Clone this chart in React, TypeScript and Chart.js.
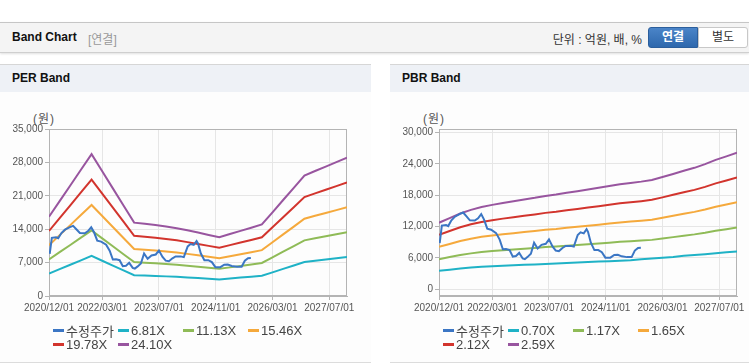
import React, { useEffect, useRef } from "react";
import { Chart, registerables } from "chart.js";
Chart.register(...registerables);

// x positions are months counted from 2020/12/01
const tickMonths = [0, 15, 31, 47, 63, 79];
const tickLabels = ["2020/12/01", "2022/03/01", "2023/07/01", "2024/11/01", "2026/03/01", "2027/07/01"];

const bandMonths = [0, 3, 6, 9, 12, 15, 18, 21, 24, 27, 30, 33, 36, 39, 42, 45, 48, 51, 54, 57, 60, 63, 66, 69, 72, 75, 78, 81, 84];

const priceMonths = [0.2, 0.8, 2.0, 2.6, 3.5, 4.5, 5.9, 6.8, 7.7, 8.7, 10.1, 11.0, 11.9, 12.7, 13.6, 14.7, 16.1, 17.1, 18.0, 18.9, 19.9, 20.8, 21.7, 22.6, 23.6, 24.2, 25.0, 25.9, 26.8, 27.8, 28.9, 30.1, 31.0, 32.0, 32.9, 33.8, 34.8, 35.7, 37.1, 38.0, 39.1, 39.9, 40.8, 41.6, 42.0, 42.8, 43.8, 44.9, 45.9, 46.9, 48.3, 49.4, 50.4, 51.5, 53.0, 54.3, 55.2, 56.1, 56.9];
const priceValues = [8850, 12200, 12300, 12100, 13200, 13900, 14450, 14700, 14000, 13200, 13150, 13600, 14400, 13350, 11600, 11400, 10750, 9500, 7650, 7700, 7500, 6250, 6350, 6950, 5900, 5750, 6200, 6800, 8900, 7800, 8500, 8700, 9550, 8200, 7400, 7300, 7900, 8300, 8300, 8150, 10400, 10900, 10700, 11500, 11000, 8900, 7500, 7500, 7100, 6050, 6050, 6550, 6600, 6300, 6150, 6150, 7400, 7900, 7950];

// PER bands
const per681 = [4692, 5618, 6544, 7477, 8404, 7389, 6374, 5359, 4345, 4277, 4209, 4113, 4018, 3889, 3759, 3616, 3480, 3671, 3854, 4045, 4236, 4958, 5686, 6408, 7137, 7402, 7661, 7927, 8192];
const per1113 = [7669, 9182, 10696, 12221, 13734, 12076, 10418, 8759, 7101, 6990, 6878, 6723, 6567, 6355, 6144, 5910, 5687, 5999, 6300, 6611, 6923, 8103, 9294, 10473, 11664, 12098, 12521, 12955, 13389];
const per1546 = [10652, 12755, 14857, 16975, 19078, 16774, 14471, 12167, 9863, 9709, 9554, 9338, 9121, 8828, 8534, 8209, 7900, 8333, 8750, 9183, 9616, 11255, 12909, 14548, 16202, 16805, 17393, 17995, 18598];
const per1978 = [13628, 16319, 19009, 21718, 24409, 21461, 18514, 15567, 12620, 12422, 12224, 11947, 11670, 11294, 10919, 10503, 10108, 10661, 11195, 11749, 12303, 14400, 16516, 18613, 20729, 21501, 22253, 23024, 23795];
const per2410 = [16605, 19883, 23160, 26462, 29739, 26149, 22558, 18967, 15376, 15135, 14894, 14556, 14219, 13761, 13303, 12797, 12315, 12990, 13641, 14315, 14990, 17545, 20124, 22678, 25257, 26197, 27113, 28052, 28992];

// PBR bands
const pbr070 = [3520, 3740, 3960, 4150, 4300, 4380, 4480, 4580, 4670, 4750, 4830, 4920, 5010, 5110, 5220, 5300, 5380, 5450, 5560, 5720, 5880, 6020, 6180, 6400, 6560, 6720, 6900, 7060, 7230];
const pbr117 = [5756, 6154, 6552, 6868, 7114, 7301, 7465, 7617, 7769, 7909, 8073, 8190, 8342, 8483, 8635, 8775, 8927, 9079, 9196, 9313, 9454, 9711, 9980, 10249, 10507, 10823, 11197, 11501, 11817];
const pbr165 = [8118, 8679, 9240, 9686, 10032, 10296, 10527, 10742, 10956, 11154, 11385, 11550, 11765, 11963, 12177, 12375, 12590, 12804, 12969, 13134, 13332, 13695, 14075, 14454, 14817, 15263, 15791, 16220, 16665];
const pbr212 = [10430, 11151, 11872, 12444, 12890, 13229, 13526, 13801, 14077, 14331, 14628, 14840, 15116, 15370, 15646, 15900, 16176, 16451, 16663, 16875, 17130, 17596, 18084, 18571, 19038, 19610, 20288, 20840, 21412];
const pbr259 = [12743, 13623, 14504, 15203, 15747, 16162, 16524, 16861, 17198, 17508, 17871, 18130, 18467, 18778, 19114, 19425, 19762, 20098, 20357, 20616, 20927, 21497, 22093, 22688, 23258, 23958, 24786, 25460, 26159];

const perLabels = ["6.81X", "11.13X", "15.46X", "19.78X", "24.10X"];
const pbrLabels = ["0.70X", "1.17X", "1.65X", "2.12X", "2.59X"];
const perYTicks = [0, 7000, 14000, 21000, 28000, 35000];
const pbrYTicks = [0, 6000, 12000, 18000, 24000, 30000];

const PRICE_COLOR = "#3b76c4";
const BAND_COLORS = ["#1fb2c6", "#8fbb57", "#f5a93c", "#d2342d", "#98559f"];
const FONT = "'Liberation Sans', Arial, 'Noto Sans CJK KR', sans-serif";
const KFONT = "'Liberation Sans', Arial, 'Noto Sans CJK KR', sans-serif";

const borderPlugin = {
  id: "plotBorder",
  beforeDatasetsDraw(chart: any) {
    const { ctx, chartArea } = chart;
    ctx.save();
    ctx.strokeStyle = "#b4b4b4";
    ctx.lineWidth = 1;
    ctx.strokeRect(
      Math.round(chartArea.left) + 0.5,
      Math.round(chartArea.top) + 0.5,
      Math.round(chartArea.right - chartArea.left) - 1,
      Math.round(chartArea.bottom - chartArea.top) - 1
    );
    ctx.restore();
  },
};

function BandCanvas(props: { bands: number[][]; labels: string[]; yMin: number; yMax: number; yTicks: number[] }) {
  const ref = useRef<HTMLCanvasElement>(null);
  useEffect(() => {
    if (!ref.current) return;
    const datasets: any[] = [
      {
        label: "수정주가",
        data: priceMonths.map((m, i) => ({ x: m, y: priceValues[i] })),
        borderColor: PRICE_COLOR,
        backgroundColor: PRICE_COLOR,
      },
      ...props.bands.map((vals, k) => ({
        label: props.labels[k],
        data: bandMonths.map((m, i) => ({ x: m, y: vals[i] })),
        borderColor: BAND_COLORS[k],
        backgroundColor: BAND_COLORS[k],
      })),
    ].map((d) => ({ ...d, borderWidth: 2, pointRadius: 0, tension: 0, fill: false }));

    const chart = new Chart(ref.current, {
      type: "line",
      data: { datasets },
      options: {
        animation: false,
        responsive: false,
        events: [],
        layout: { padding: { top: 29, right: 23, left: 0, bottom: 0 } },
        plugins: { legend: { display: false }, tooltip: { enabled: false } },
        scales: {
          x: {
            type: "linear",
            min: 0,
            max: 84,
            afterBuildTicks: (s: any) => {
              s.ticks = tickMonths.map((v) => ({ value: v }));
            },
            afterFit: (s: any) => {
              s.height = 29;
            },
            ticks: {
              autoSkip: false,
              maxRotation: 0,
              padding: 2,
              color: "#555",
              font: { family: FONT, size: 10 },
              callback: (v: any) => {
                const i = tickMonths.indexOf(Number(v));
                return i >= 0 ? tickLabels[i] : "";
              },
            },
            grid: { color: "#e6e6e6", tickColor: "#b4b4b4", tickLength: 4 },
            border: { color: "#b4b4b4" },
          },
          y: {
            type: "linear",
            min: props.yMin,
            max: props.yMax,
            afterBuildTicks: (s: any) => {
              s.ticks = props.yTicks.map((v) => ({ value: v }));
            },
            afterFit: (s: any) => {
              s.width = 49;
            },
            ticks: {
              padding: 2,
              color: "#555",
              font: { family: FONT, size: 10 },
              callback: (v: any) => Number(v).toLocaleString("en-US"),
            },
            grid: { color: "#e6e6e6", tickColor: "#b4b4b4", tickLength: 4 },
            border: { color: "#b4b4b4" },
          },
        },
      },
      plugins: [borderPlugin],
    } as any);
    return () => chart.destroy();
  }, []);
  return (
    <canvas
      ref={ref}
      width={370}
      height={225}
      style={{ position: "absolute", left: 0, top: 100, width: 370, height: 225 }}
    />
  );
}

function Legend(props: { labels: string[] }) {
  const items = [{ label: "수정주가", color: PRICE_COLOR }, ...props.labels.map((l, k) => ({ label: l, color: BAND_COLORS[k] }))];
  return (
    <>
      {items.map((it, i) => {
        const col = i % 4;
        const row = Math.floor(i / 4);
        return (
          <div
            key={i}
            style={{
              position: "absolute",
              left: 53 + col * 65,
              top: 322 + row * 14,
              height: 16,
              display: "flex",
              alignItems: "center",
              whiteSpace: "nowrap",
            }}
          >
            <span style={{ display: "inline-block", width: 11, height: 3, background: it.color, marginRight: 2 }} />
            <span style={{ fontSize: 13, color: "#444", fontFamily: KFONT }}>{it.label}</span>
          </div>
        );
      })}
    </>
  );
}

function Panel(props: { left: number; title: string; bands: number[][]; labels: string[]; yMin: number; yMax: number; yTicks: number[] }) {
  return (
    <div style={{ position: "absolute", left: props.left, top: 0, width: 371, height: 364 }}>
      <div
        style={{
          position: "absolute",
          left: 0,
          top: 64,
          width: 371,
          height: 28,
          background: "#eef1f6",
          borderTop: "1px solid #d6d6d6",
          boxSizing: "border-box",
        }}
      >
        <div style={{ position: "absolute", left: 12, top: 6, fontSize: 12, fontWeight: "bold", color: "#111", fontFamily: FONT }}>
          {props.title}
        </div>
      </div>
      <div style={{ position: "absolute", left: 0, top: 92, width: 371, height: 270, background: "#fdfdfd" }} />
      <div style={{ position: "absolute", left: 0, top: 362, width: 371, height: 1, background: "#dcdcdc" }} />
      <div style={{ position: "absolute", left: 33, top: 109, fontSize: 12, letterSpacing: 1, color: "#555", fontFamily: KFONT }}>(원)</div>
      <BandCanvas bands={props.bands} labels={props.labels} yMin={props.yMin} yMax={props.yMax} yTicks={props.yTicks} />
      <Legend labels={props.labels} />
    </div>
  );
}

export default function App() {
  return (
    <div
      style={{
        position: "fixed",
        left: 0,
        top: 0,
        width: 749,
        height: 364,
        overflow: "hidden",
        background: "#fff",
        fontFamily: FONT,
      }}
    >
      <div
        style={{
          position: "absolute",
          left: 0,
          top: 22,
          width: 749,
          height: 31,
          background: "#f4f4f4",
          borderTop: "1px solid #c6c6c6",
          borderBottom: "1px solid #cfcfcf",
          boxShadow: "0 1px 2px rgba(0,0,0,0.12)",
          boxSizing: "border-box",
        }}
      >
        <div style={{ position: "absolute", left: 12, top: 7, fontSize: 12, fontWeight: "bold", color: "#111" }}>Band Chart</div>
        <div style={{ position: "absolute", left: 88, top: 7, fontSize: 12, color: "#999", fontFamily: KFONT }}>[연결]</div>
        <div style={{ position: "absolute", right: 107, top: 7, fontSize: 12, color: "#333", fontFamily: KFONT }}>단위 : 억원, 배, %</div>
        <div
          style={{
            position: "absolute",
            left: 648,
            top: 4,
            width: 50,
            height: 21,
            background: "linear-gradient(#4a84c8, #2e68ad)",
            border: "1px solid #2b5e9c",
            borderRadius: "3px 0 0 3px",
            boxSizing: "border-box",
            color: "#fff",
            fontWeight: "bold",
            fontSize: 12,
            textAlign: "center",
            lineHeight: "19px",
            fontFamily: KFONT,
          }}
        >
          연결
        </div>
        <div
          style={{
            position: "absolute",
            left: 698,
            top: 4,
            width: 50,
            height: 21,
            background: "#fff",
            border: "1px solid #c8c8c8",
            borderRadius: "0 3px 3px 0",
            boxSizing: "border-box",
            color: "#333",
            fontSize: 12,
            textAlign: "center",
            lineHeight: "19px",
            fontFamily: KFONT,
          }}
        >
          별도
        </div>
      </div>
      <Panel left={0} title="PER Band" bands={[per681, per1113, per1546, per1978, per2410]} labels={perLabels} yMin={0} yMax={35000} yTicks={perYTicks} />
      <Panel left={390} title="PBR Band" bands={[pbr070, pbr117, pbr165, pbr212, pbr259]} labels={pbrLabels} yMin={-1300} yMax={30700} yTicks={pbrYTicks} />
    </div>
  );
}
